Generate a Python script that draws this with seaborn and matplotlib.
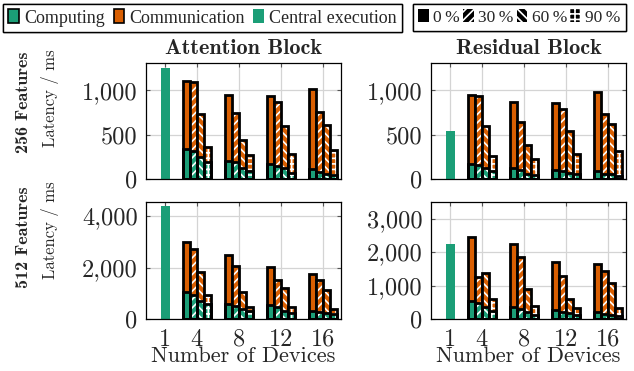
import matplotlib
matplotlib.use("Agg")
import matplotlib.pyplot as plt
from matplotlib.patches import Patch
from matplotlib.ticker import FuncFormatter
import numpy as np
import seaborn as sns

# ---- data (ms) ----
devices = [4, 8, 12, 16]
sparsity = ["0\u2009%", "30\u2009%", "60\u2009%", "90\u2009%"]

# rows: 0 %, 30 %, 60 %, 90 % ; columns: 4, 8, 12, 16 devices
attn256_comp = [[340, 198, 172, 113], [320, 187, 149, 79], [246, 123, 123, 60], [187, 86, 67, 41]]
attn256_comm = [[772, 750, 765, 902], [770, 563, 717, 677], [493, 317, 481, 553], [171, 186, 217, 282]]
attn256_central = 1250

res256_comp = [[172, 123, 104, 86], [160, 104, 86, 60], [123, 60, 67, 60], [86, 45, 60, 37]]
res256_comm = [[776, 746, 750, 899], [773, 542, 705, 679], [474, 321, 474, 556], [175, 186, 220, 280]]
res256_central = 540

attn512_comp = [[1065, 584, 545, 325], [948, 519, 481, 260], [714, 390, 325, 234], [584, 325, 234, 195]]
attn512_comm = [[1922, 1910, 1468, 1415], [1779, 1559, 1051, 1259], [1104, 675, 870, 896], [351, 156, 221, 195]]
attn512_central = 4380

res512_comp = [[544, 352, 282, 222], [483, 302, 201, 151], [352, 222, 181, 121], [252, 121, 121, 100]]
res512_comm = [[1913, 1884, 1410, 1409], [776, 1551, 1078, 1279], [1038, 664, 423, 957], [332, 262, 221, 242]]
res512_central = 2250

GREEN = "#1b9e77"
ORANGE = "#d95f02"
HATCHES = [None, "////", "\\\\\\\\", "+++"]

sns.set_style("ticks")
plt.rcParams["font.family"] = "cmr10"
plt.rcParams["axes.formatter.use_mathtext"] = True
plt.rcParams["hatch.linewidth"] = 1.2

fig = plt.figure(figsize=(6.34, 3.71), dpi=100)
W, H = 634, 371


def axes_px(x0, y0, x1, y1):
    return fig.add_axes([x0 / W, 1 - y1 / H, (x1 - x0) / W, (y1 - y0) / H])


def sns_bars(ax, x, y, w, **kws):
    x = np.asarray(x, dtype=float)
    native = np.min(np.diff(x)) if len(x) > 1 else 1.0
    sns.barplot(x=x, y=y, native_scale=True, width=w / native, saturation=1,
                errorbar=None, ax=ax, **kws)


def panel(ax, comp, comm, central, ymax, yticks, bottom_row):
    bw = 0.67
    comp = np.array(comp)
    total = comp + np.array(comm)
    sns_bars(ax, [1], [central], 0.85, color=GREEN, linewidth=0)
    for i in range(4):
        xs = np.array(devices) + (i - 1.5) * bw
        hatch = HATCHES[i]
        sns_bars(ax, xs, total[i], bw, color=ORANGE, edgecolor="white",
                 linewidth=0, hatch=hatch)
        sns_bars(ax, xs, comp[i], bw, color=GREEN, edgecolor="white",
                 linewidth=0, hatch=hatch)
        sns_bars(ax, xs, total[i], bw, facecolor="none", edgecolor="black",
                 linewidth=2.0)
        sns_bars(ax, xs, comp[i], bw, facecolor="none", edgecolor="black",
                 linewidth=2.0)
    ax.set_xlim(-0.85, 17.75)
    ax.set_ylim(0, ymax)
    ax.set_xticks([1, 4, 8, 12, 16])
    ax.set_yticks(yticks)
    ax.yaxis.set_major_formatter(FuncFormatter(lambda v, p: f"{v:,.0f}"))
    ax.set_axisbelow(True)
    ax.grid(True, color="#d4d4d4", linewidth=0.9)
    ax.tick_params(direction="in", length=3, top=True, right=True,
                   color="#555555", labelsize=17.5, pad=6)
    ax.tick_params(axis="x", pad=7)
    for s in ax.spines.values():
        s.set_color("black")
        s.set_linewidth(0.9)
    ax.set_ylabel("")
    if bottom_row:
        ax.set_xticklabels(["1", "4", "8", "12", "16"])
        ax.set_xlabel("Number of Devices", fontsize=16, labelpad=-3.5)
    else:
        ax.set_xticklabels([])
        ax.set_xlabel("")


ax_tl = axes_px(146, 63, 341, 179)
ax_tr = axes_px(431, 63, 626, 179)
ax_bl = axes_px(146, 202, 341, 319)
ax_br = axes_px(431, 202, 626, 319)

panel(ax_tl, attn256_comp, attn256_comm, attn256_central, 1310, [0, 500, 1000], False)
panel(ax_tr, res256_comp, res256_comm, res256_central, 1310, [0, 500, 1000], False)
panel(ax_bl, attn512_comp, attn512_comm, attn512_central, 4550, [0, 2000, 4000], True)
panel(ax_br, res512_comp, res512_comm, res512_central, 3500, [0, 1000, 2000, 3000], True)

# column titles
fig.text((146 + 341) / 2 / W, 1 - 49 / H, "Attention Block", family="cmb10",
         fontsize=16, ha="center", va="center")
fig.text((431 + 626) / 2 / W, 1 - 49 / H, "Residual Block", family="cmb10",
         fontsize=16, ha="center", va="center")

# row labels
fig.text(24 / W, 1 - 102 / H, "256 Features", family="cmb10", fontsize=13,
         rotation=90, ha="center", va="center")
fig.text(50 / W, 1 - 98 / H, "Latency / ms", fontsize=12,
         rotation=90, ha="center", va="center")
fig.text(24 / W, 1 - 237 / H, "512 Features", family="cmb10", fontsize=13,
         rotation=90, ha="center", va="center")
fig.text(50 / W, 1 - 230 / H, "Latency / ms", fontsize=12,
         rotation=90, ha="center", va="center")

# legends
h1 = [Patch(facecolor=GREEN, edgecolor="black", linewidth=1.2),
      Patch(facecolor=ORANGE, edgecolor="black", linewidth=1.2),
      Patch(facecolor=GREEN, edgecolor="none")]
l1 = ["Computing", "Communication", "Central execution"]
h2 = [Patch(facecolor="black", edgecolor="white", linewidth=0, hatch=h) for h in HATCHES]

for handles, labels, x0, colsp, fs in [(h1, l1, 3, 0.5, 13), (h2, sparsity, 413, 0.2, 12.5)]:
    leg = fig.legend(handles, labels, loc="upper left", bbox_to_anchor=(x0 / W, 1 - 4 / H),
                     ncol=len(handles), prop={"family": "Liberation Serif", "size": fs},
                     frameon=True, fancybox=False,
                     edgecolor="black", framealpha=1, handlelength=0.6, handleheight=0.8,
                     handletextpad=0.25, columnspacing=colsp, borderpad=0.3, borderaxespad=0)
    leg.get_frame().set_linewidth(1.0)
    fig.add_artist(leg)

fig.savefig("out.png", dpi=100)
